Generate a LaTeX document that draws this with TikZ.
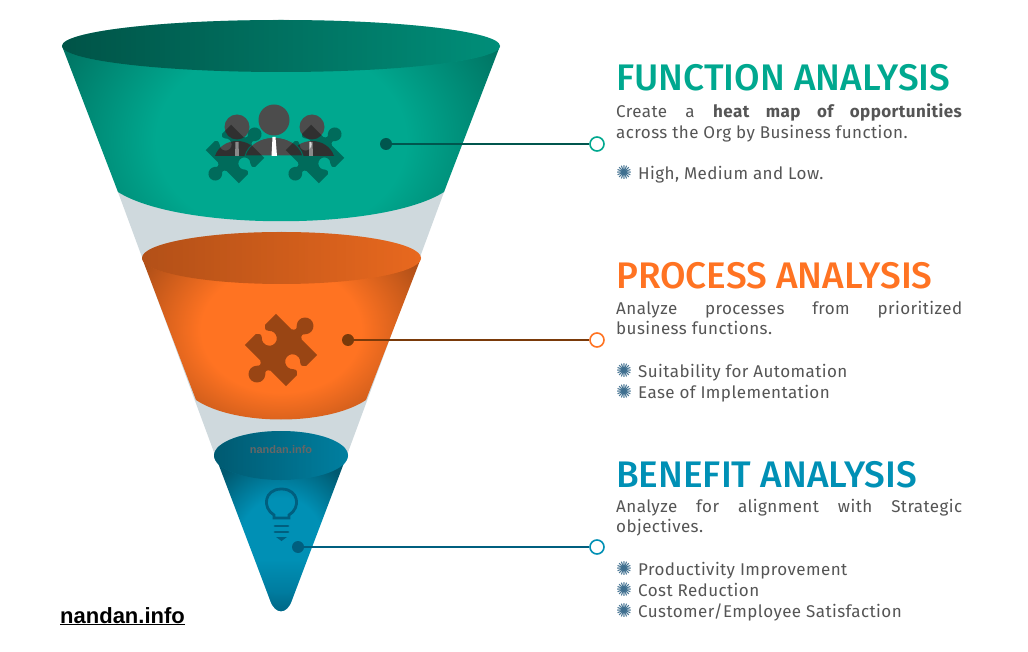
\documentclass[tikz,border=0pt]{standalone}
\usepackage{fontspec}
\setmainfont{Liberation Sans}
\newfontfamily\headfont{Fira Sans Medium}
\newfontfamily\bodyfont[LetterSpace=2.5,HyphenChar=None]{Fira Sans}
\newfontfamily\starfont{DejaVu Sans}
\usetikzlibrary{fadings}
\definecolor{tealc}{HTML}{00A88F}
\definecolor{orangec}{HTML}{FF7322}
\definecolor{bluec}{HTML}{0090B5}
\definecolor{tealdark}{HTML}{00564E}
\definecolor{orangedark}{HTML}{7A3A0A}
\definecolor{bluedark}{HTML}{005F7F}
\definecolor{conec}{HTML}{CFD9DD}
\definecolor{textc}{HTML}{555555}
\definecolor{starc}{HTML}{3F6F8F}
\tikzfading[name=rimfade,left color=transparent!50,middle color=transparent!50,right color=transparent!85]
\pgfdeclareradialshading{tealglow}{\pgfpointorigin}{color(0bp)=(tealc); color(12.5bp)=(tealc); color(25bp)=(tealc!68!black); color(50bp)=(tealc!68!black)}
\pgfdeclareradialshading{orangeglow}{\pgfpointorigin}{color(0bp)=(orangec); color(12.5bp)=(orangec); color(25bp)=(orangec!68!black); color(50bp)=(orangec!68!black)}
\pgfdeclareradialshading{blueglow}{\pgfpointorigin}{color(0bp)=(bluec); color(12.5bp)=(bluec); color(25bp)=(bluec!62!black); color(50bp)=(bluec!62!black)}
\tikzset{
  heading/.style={anchor=base west,inner sep=0pt,font=\headfont\fontsize{37}{37}\selectfont},
  bodytext/.style={anchor=north west,inner sep=0pt,text width=346pt,align=justify,text=textc,font=\bodyfont\fontsize{17}{20.5}\selectfont,execute at begin node={\tolerance=10000\hbadness=10000}},
  bullets/.style={anchor=north west,inner sep=0pt,text=textc,align=left,font=\bodyfont\fontsize{17}{21}\selectfont},
  dot/.style={circle,inner sep=0pt,minimum size=12pt},
  ring/.style={circle,draw,line width=1.6pt,fill=white,inner sep=0pt,minimum size=14pt},
}
\newcommand{\puzzle}{(1,-1) -- (1,-.25) .. controls (1.1,-.12) and (1.2,-.12) .. (1.306,-.222) arc (-130:130:.38 and .29) .. controls (1.2,.12) and (1.1,.12) .. (1,.25) -- (1,1) -- (.3,1) .. controls (.15,.9) and (.12,.88) .. (.219,.769) arc (50:-230:.34 and .26) .. controls (-.12,.88) and (-.15,.9) .. (-.3,1) -- (-1,1) -- (-1,.25) .. controls (-1.1,.12) and (-1.2,.12) .. (-1.306,.222) arc (50:310:.38 and .29) .. controls (-1.2,-.12) and (-1.1,-.12) .. (-1,-.25) -- (-1,-1) -- (-.3,-1) .. controls (-.15,-.9) and (-.12,-.88) .. (-.219,-.769) arc (230:-50:.34 and .26) .. controls (.12,-.88) and (.15,-.9) .. (.3,-1) -- cycle}
\newcommand{\starmark}{\makebox[22pt][l]{\starfont\fontsize{19}{19}\selectfont\textcolor{starc}{✺}}}
\begin{document}
\begin{tikzpicture}[x=1pt,y=-1pt]
\useasboundingbox (0,0) rectangle (1028,652);
\fill[white] (0,0) rectangle (1028,652);

% cone behind the three cups
\fill[conec] (115.4,185) -- (446.6,185) -- (347,455) -- (215,455) -- cycle;

% teal cup
\begin{scope}
\clip (62,46) -- (118,192) .. controls (180,231) and (382,231) .. (444,192) -- (500,46) -- cycle;
\shade[shading=tealglow] (31,-50) rectangle (531,330);
\end{scope}
\fill[tealc] (281,46) ellipse (219 and 26);
\fill[black,path fading=rimfade] (281,46) ellipse (219 and 26);

% orange cup
\begin{scope}
\clip (142,258) -- (196,400) .. controls (235,426) and (327,426) .. (366,400) -- (421,258) -- cycle;
\shade[shading=orangeglow] (121,205) rectangle (441,455);
\end{scope}
\fill[orangec] (281.5,258) ellipse (139.5 and 26);
\fill[black,path fading=rimfade,fill opacity=.6] (281.5,258) ellipse (139.5 and 26);

% blue cup
\begin{scope}
\clip (215,455) -- (270,600) .. controls (275,615) and (287,615) .. (292,600) -- (347,455) -- cycle;
\shade[shading=blueglow] (196,450) rectangle (366,640);
\fill[bluedark,path fading=north] (205,560) rectangle (355,640);
\end{scope}
\fill[bluec] (281,455.5) ellipse (67 and 24.5);
\fill[black,path fading=rimfade,fill opacity=.75] (281,455.5) ellipse (67 and 24.5);
\node[inner sep=0pt,text=black!60,font=\bfseries\fontsize{11}{11}\selectfont] (mark) at (281,449.5) {nandan.info};

% people and puzzle pieces
\fill[black!70] (237,127) circle (12.5);
\fill[black!70] (312,127) circle (12.5);
\fill[black!70] (215,156) .. controls (222,136) and (252,136) .. (259,156) -- cycle;
\fill[black!70] (290,156) .. controls (297,136) and (327,136) .. (334,156) -- cycle;
\fill[white!85!black] (235.5,142) -- (238.5,142) -- (239,156) -- (235,156) -- cycle;
\fill[white!85!black] (309.5,142) -- (312.5,142) -- (313,156) -- (309,156) -- cycle;
\fill[black!70,draw=tealc,line width=1pt] (245,156) .. controls (252,131) and (296,131) .. (303,156) -- cycle;
\fill[black!70] (274,120) circle (15.5);
\fill[white] (272.5,137) -- (275.5,137) -- (277,156) -- (271.5,156) -- cycle;
\begin{scope}[shift={(235,154)},rotate=45,x=18pt,y=23.5pt]
\fill[black,opacity=.36] \puzzle;
\end{scope}
\begin{scope}[shift={(315,154)},rotate=45,x=18pt,y=23.5pt]
\fill[black,opacity=.36] \puzzle;
\end{scope}
\begin{scope}[shift={(281,350)},rotate=45,x=22pt,y=29pt]
\fill[black,opacity=.4] \puzzle;
\end{scope}

% bulb
\draw[bluedark,line width=2.8pt] (274,518) -- (274,515) .. controls (262,508) and (264,489) .. (281.5,489) .. controls (299,489) and (301,508) .. (289,515) -- (289,518) -- cycle;
\draw[bluedark,line width=2.8pt,line cap=round] (275,526) -- (288,526);
\draw[bluedark,line width=2.8pt,line cap=round] (275,532) -- (288,532);
\fill[bluedark] (276,537) -- (287,537) -- (281.5,541) -- cycle;

% connectors
\node[dot,fill=tealdark] (d1) at (386,144) {};
\node[ring,draw=tealc] (r1) at (597,144) {};
\node[dot,fill=orangedark] (d2) at (348,340) {};
\node[ring,draw=orangec] (r2) at (597,340) {};
\node[dot,fill=bluedark] (d3) at (298,547) {};
\node[ring,draw=bluec] (r3) at (597,547) {};
\path[draw=tealdark,line width=1.6pt] (d1) -- (r1);
\path[draw=orangedark,line width=1.6pt] (d2) -- (r2);
\path[draw=bluedark,line width=1.6pt] (d3) -- (r3);

% text on the right
\node[heading,text=tealc] (h1) at (616,91) {FUNCTION ANALYSIS};
\node[bodytext] (t1) at (616,104) {Create a \textbf{heat map of opportunities}\linebreak across the Org by Business function.};
\node[bullets] (b1) at (616,165) {\starmark High, Medium and Low.};

\node[heading,text=orangec] (h2) at (616,289) {PROCESS ANALYSIS};
\node[bodytext] (t2) at (616,301) {Analyze processes from prioritized business functions.};
\node[bullets] (b2) at (616,363) {\starmark Suitability for Automation\\\starmark Ease of Implementation};

\node[heading,text=bluec] (h3) at (616,487) {BENEFIT ANALYSIS};
\node[bodytext] (t3) at (616,499) {Analyze for alignment with Strategic objectives.};
\node[bullets] (b3) at (616,561) {\starmark Productivity Improvement\\\starmark Cost Reduction\\\starmark Customer/Employee Satisfaction};

\node[anchor=base west,inner sep=0pt,font=\bfseries\fontsize{22}{22}\selectfont] (site) at (60,623) {\underline{nandan.info}};
\end{tikzpicture}
\end{document}
